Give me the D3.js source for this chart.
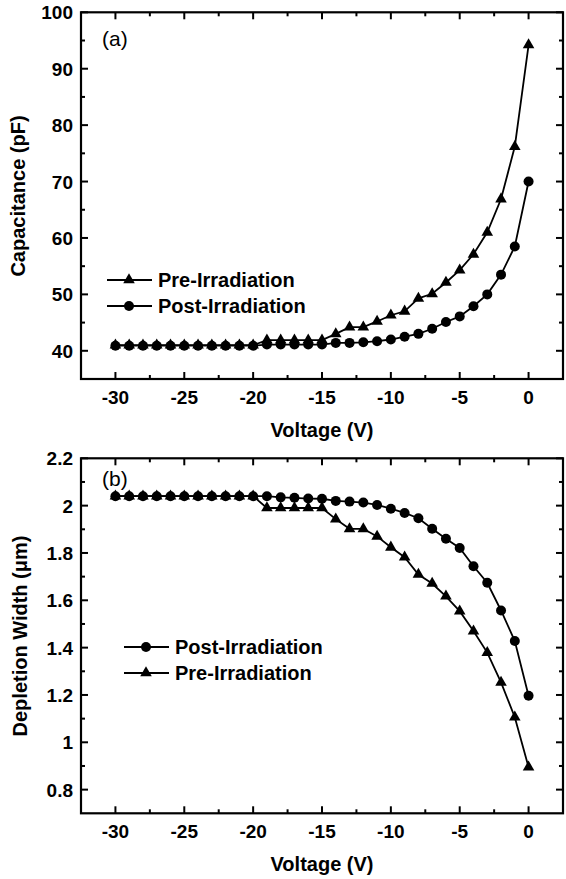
<!DOCTYPE html>
<html><head><meta charset="utf-8">
<script src="https://cdn.jsdelivr.net/npm/d3@7"></script>
<style>
html,body{margin:0;padding:0;background:#fff;}
svg{display:block;font-family:"Liberation Sans",Arial,sans-serif;}
</style></head>
<body>
<svg id="chart" width="566" height="879"></svg>
<script>
// ---------- data ----------
const voltage = [-30,-29,-28,-27,-26,-25,-24,-23,-22,-21,-20,-19,-18,-17,-16,-15,-14,-13,-12,-11,-10,-9,-8,-7,-6,-5,-4,-3,-2,-1,0];
const capPre  = [41,41,41,41,41,41,41,41,41,41,41, 41.9,41.9,41.9,41.9,41.9, 43.0,44.2,44.2,45.2,46.3,47.0,49.3,50.1,52.1,54.3,57.1,61.0,66.9,76.2,94.2];
const capPost = [40.9,40.9,40.9,40.9,40.9,40.9,40.9,40.9,40.9,40.9,40.9, 41.1,41.1,41.1,41.1,41.1, 41.4,41.4,41.5,41.7,42.0,42.5,43.0,43.9,45.1,46.1,47.9,50.0,53.5,58.5,70.0];
const widthPre  = [2.04,2.04,2.04,2.04,2.04,2.04,2.04,2.04,2.04,2.04,2.04, 1.99,1.99,1.99,1.99,1.99, 1.943,1.902,1.902,1.87,1.824,1.782,1.709,1.671,1.617,1.554,1.47,1.379,1.253,1.106,0.895];
const widthPost = [2.04,2.04,2.04,2.04,2.04,2.04,2.04,2.04,2.04,2.04,2.04,2.04, 2.035,2.033,2.03,2.029,2.02,2.017,2.013,2.003,1.987,1.969,1.947,1.902,1.86,1.821,1.744,1.674,1.557,1.428,1.197];
const xTicks = [-30,-25,-20,-15,-10,-5,0];
const xMinor = [-32.5,-27.5,-22.5,-17.5,-12.5,-7.5,-2.5];
const capTicks = [40,50,60,70,80,90,100];
const capMinor = [35,45,55,65,75,85,95];
const widthTicks = [0.8,1.0,1.2,1.4,1.6,1.8,2.0,2.2];
const widthTickLabels = ["0.8","1","1.2","1.4","1.6","1.8","2","2.2"];
const widthMinor = [0.7,0.9,1.1,1.3,1.5,1.7,1.9,2.1];
const xDomain = [-32.5, 2.5];
const capDomain = [35, 100];
const widthDomain = [0.7, 2.2];

const svg = d3.select("#chart");

function panel(cfg){
  const g = svg.append("g");
  const x = d3.scaleLinear().domain(xDomain).range([cfg.left, cfg.right]);
  const y = d3.scaleLinear().domain(cfg.yDomain).range([cfg.bottom, cfg.top]);
  const ticks = g.append("g").attr("stroke","#000").attr("stroke-width",2);
  xTicks.forEach(v=>{
    ticks.append("line").attr("x1",x(v)).attr("x2",x(v)).attr("y1",cfg.bottom).attr("y2",cfg.bottom-7);
    ticks.append("line").attr("x1",x(v)).attr("x2",x(v)).attr("y1",cfg.top).attr("y2",cfg.top+7);
  });
  xMinor.filter(v=>v>xDomain[0]).forEach(v=>{
    ticks.append("line").attr("x1",x(v)).attr("x2",x(v)).attr("y1",cfg.bottom).attr("y2",cfg.bottom-4);
    ticks.append("line").attr("x1",x(v)).attr("x2",x(v)).attr("y1",cfg.top).attr("y2",cfg.top+4);
  });
  cfg.yTicks.forEach(v=>{
    ticks.append("line").attr("x1",cfg.left).attr("x2",cfg.left+7).attr("y1",y(v)).attr("y2",y(v));
    ticks.append("line").attr("x1",cfg.right).attr("x2",cfg.right-7).attr("y1",y(v)).attr("y2",y(v));
  });
  cfg.yMinor.filter(v=>v>cfg.yDomain[0]).forEach(v=>{
    ticks.append("line").attr("x1",cfg.left).attr("x2",cfg.left+4).attr("y1",y(v)).attr("y2",y(v));
    ticks.append("line").attr("x1",cfg.right).attr("x2",cfg.right-4).attr("y1",y(v)).attr("y2",y(v));
  });
  g.append("rect").attr("x",cfg.left).attr("y",cfg.top)
    .attr("width",cfg.right-cfg.left).attr("height",cfg.bottom-cfg.top)
    .attr("fill","none").attr("stroke","#000").attr("stroke-width",2.2);
  const tl = g.append("g").attr("font-size",19).attr("font-weight","bold").attr("fill","#000");
  xTicks.forEach(v=>{
    tl.append("text").attr("x",x(v)).attr("y",cfg.bottom+25).attr("text-anchor","middle").text(v);
  });
  cfg.yTicks.forEach((v,i)=>{
    tl.append("text").attr("x",cfg.left-8).attr("y",y(v)+7).attr("text-anchor","end").text(cfg.yLabels[i]);
  });
  g.append("text").attr("x",(cfg.left+cfg.right)/2).attr("y",cfg.bottom+58)
    .attr("text-anchor","middle").attr("font-size",20).attr("font-weight","bold").text("Voltage (V)");
  g.append("text").attr("transform",`translate(${cfg.ytx},${cfg.yty}) rotate(-90)`)
    .attr("text-anchor","middle").attr("font-size",20).attr("font-weight","bold").text(cfg.yTitle);
  g.append("text").attr("x",cfg.left+21).attr("y",cfg.top+cfg.letterDy).attr("font-size",21).text(cfg.letter);

  const line = d3.line().x(d=>x(d[0])).y(d=>y(d[1]));
  const tri = d3.symbol().type(d3.symbolTriangle).size(58);
  cfg.series.forEach(s=>{
    const pts = voltage.map((v,i)=>[v,s.values[i]]);
    g.append("path").datum(pts).attr("d",line).attr("fill","none").attr("stroke","#000").attr("stroke-width",1.8);
    if(s.marker==="circle"){
      g.selectAll(null).data(pts).enter().append("circle")
        .attr("cx",d=>x(d[0])).attr("cy",d=>y(d[1])).attr("r",5).attr("fill","#000");
    } else {
      g.selectAll(null).data(pts).enter().append("path").attr("d",tri)
        .attr("transform",d=>`translate(${x(d[0])},${y(d[1])})`).attr("fill","#000");
    }
  });
  cfg.legend.forEach((l,i)=>{
    const ly = cfg.legY + i*26;
    g.append("line").attr("x1",cfg.legX).attr("x2",cfg.legX+45).attr("y1",ly).attr("y2",ly)
      .attr("stroke","#000").attr("stroke-width",1.8);
    if(l.marker==="circle"){
      g.append("circle").attr("cx",cfg.legX+22).attr("cy",ly).attr("r",5).attr("fill","#000");
    } else {
      g.append("path").attr("d",tri).attr("transform",`translate(${cfg.legX+22},${ly})`).attr("fill","#000");
    }
    g.append("text").attr("x",cfg.legX+51).attr("y",ly+7).attr("font-size",20).attr("font-weight","bold").text(l.name);
  });
}

panel({
  left:81, right:563, top:12.3, bottom:379,
  yDomain:capDomain, yTicks:capTicks, yLabels:capTicks.map(String), yMinor:capMinor,
  yTitle:"Capacitance (pF)", ytx:25, yty:196, letter:"(a)", letterDy:34,
  series:[{values:capPre, marker:"triangle"},{values:capPost, marker:"circle"}],
  legend:[{name:"Pre-Irradiation",marker:"triangle"},{name:"Post-Irradiation",marker:"circle"}],
  legX:107, legY:280
});
panel({
  left:81, right:563, top:458.3, bottom:813.3,
  yDomain:widthDomain, yTicks:widthTicks, yLabels:widthTickLabels, yMinor:widthMinor,
  yTitle:"Depletion Width (μm)", ytx:27, yty:636, letter:"(b)", letterDy:28,
  series:[{values:widthPre, marker:"triangle"},{values:widthPost, marker:"circle"}],
  legend:[{name:"Post-Irradiation",marker:"circle"},{name:"Pre-Irradiation",marker:"triangle"}],
  legX:124, legY:647
});
</script>
</body></html>
